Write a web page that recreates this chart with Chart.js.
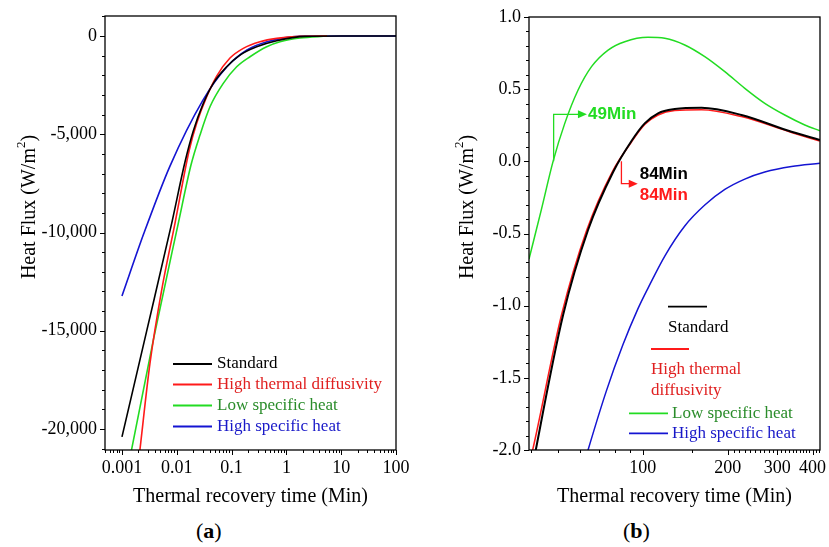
<!DOCTYPE html>
<html>
<head>
<meta charset="utf-8">
<script src="https://cdn.jsdelivr.net/npm/chart.js@4.4.1/dist/chart.umd.min.js"></script>
<style>
  body { margin: 0; background: #fff; width: 829px; height: 547px; position: relative; overflow: hidden; font-family: "Liberation Serif", serif; }
  #panelA { position: absolute; left: 0; top: 0; }
  #panelB { position: absolute; left: 420px; top: 0; }
  .tag { position: absolute; top: 518px; font-size: 22px; line-height: 26px; color: #000; }
</style>
</head>
<body>
<canvas id="panelA" width="415" height="510"></canvas>
<canvas id="panelB" width="409" height="510"></canvas>
<div class="tag" style="left:196px">(<b>a</b>)</div>
<div class="tag" style="left:623px">(<b>b</b>)</div>
<script>
// series names and colours (same order in both panels)
const seriesNames = ['Standard', 'High thermal diffusivity', 'Low specific heat', 'High specific heat'];
const lineColors = ['#000000', '#ff1a1a', '#22dc22', '#1414d2'];
const textColors = ['#000000', '#e02020', '#2a8c2a', '#1818c8'];

// panel (a): heat flux vs thermal recovery time, 0.001 - 100 min
const aStdX = [0.001, 0.00282, 0.00807, 0.01411, 0.02, 0.03047, 0.04636, 0.0814, 0.1423, 0.287, 0.665, 2.18, 10, 100];
const aStdY = [-20400, -15020, -9534, -6413, -4835, -3430, -2408, -1563, -967, -545, -239, -15, 0, 0];
const aRedX = [0.00188, 0.00213, 0.00324, 0.0053, 0.00927, 0.0169, 0.02307, 0.03512, 0.05346, 0.0935, 0.1635, 0.3298, 0.6653, 1.77, 5.5];
const aRedY = [-22350, -21038, -16660, -12931, -9534, -5803, -4444, -3090, -2036, -1120, -627, -290, -117, -15, 0];
const aGrnX = [0.00129, 0.0015, 0.00373, 0.01065, 0.01816, 0.02651, 0.04035, 0.07056, 0.1239, 0.2168, 0.437, 0.7643, 1.77, 5.51];
const aGrnY = [-21990, -21040, -15473, -9534, -6565, -5039, -3600, -2408, -1563, -1054, -545, -290, -102, 0];
const aBluX = [0.001, 0.00252, 0.00751, 0.03007, 0.0824, 0.191, 0.443, 1.77, 10, 100];
const aBluY = [-13230, -10030, -6618, -3258, -1563, -713, -290, -15, 0, 0];

// panel (b): zoom on the late recovery, 40 - 420 min
const bStdX = [40, 41.75, 52.18, 63.97, 78.5, 91.2, 101.6, 113.3, 129.8, 161.5, 223.9, 336.8, 424.4];
const bStdY = [-2.2, -2.0, -1.065, -0.476, -0.074, 0.141, 0.263, 0.333, 0.362, 0.371, 0.321, 0.205, 0.148];
const bRedX = [40, 40.7, 51.5, 63.3, 77.9, 91.2, 101.6, 113.3, 129.8, 161.5, 223.9, 336.8, 424.4];
const bRedY = [-2.06, -2.0, -1.065, -0.476, -0.074, 0.134, 0.255, 0.321, 0.352, 0.358, 0.31, 0.2, 0.141];
const bGrnX = [39.5, 43.74, 48.08, 52.9, 58.97, 65.8, 75.34, 86.3, 104.4, 119.7, 140.9, 165.9, 195.4, 230, 270.8, 318.8, 375.4, 424.4];
const bGrnY = [-0.677, -0.331, 0.0, 0.263, 0.494, 0.656, 0.771, 0.829, 0.859, 0.852, 0.806, 0.725, 0.621, 0.506, 0.402, 0.321, 0.252, 0.212];
const bBluX = [60, 63.97, 74.25, 84.95, 96.0, 104.4, 119.7, 140.9, 165.9, 195.4, 230, 270.8, 336.8, 424.4];
const bBluY = [-2.19, -2.0, -1.592, -1.273, -1.024, -0.878, -0.656, -0.448, -0.303, -0.195, -0.123, -0.074, -0.036, -0.014];

// tick labels
const aXTicks = [0.001, 0.01, 0.1, 1, 10, 100];
const aYTicks = [0, -5000, -10000, -15000, -20000];
const bXTicks = [100, 200, 300, 400];
const bYTicks = [1, 0.5, 0, -0.5, -1, -1.5, -2];

const TICK_FONT = { family: 'Liberation Serif', size: 18 };
const TITLE_FONT = '20px "Liberation Serif"';

function pts(xs, ys) {
  return xs.map((x, i) => ({ x, y: ys[i] }));
}

function logMinors(min, max) {
  const out = [];
  for (let d = -5; d <= 3; d++) {
    for (let k = 2; k <= 9; k++) {
      const v = k * Math.pow(10, d);
      if (v >= min && v <= max) out.push(v);
    }
  }
  return out;
}

function stepMinors(min, max, step, majors) {
  const out = [];
  for (let v = Math.ceil(min / step) * step; v <= max + 1e-9; v += step) {
    const r = Math.round(v / step) * step;
    if (!majors.some((m) => Math.abs(m - r) < step / 10)) out.push(r);
  }
  return out;
}

function drawArrowHead(ctx, x, y) {
  ctx.beginPath();
  ctx.moveTo(x, y);
  ctx.lineTo(x - 9, y - 4);
  ctx.lineTo(x - 9, y + 4);
  ctx.closePath();
  ctx.fill();
}

const framePlugin = {
  id: 'frame',
  afterDraw(chart, args, o) {
    const { ctx, chartArea: a } = chart;
    const sx = chart.scales.x;
    const sy = chart.scales.y;
    ctx.save();

    // box
    ctx.strokeStyle = '#000';
    ctx.lineWidth = 1.3;
    ctx.strokeRect(a.left, a.top, a.right - a.left, a.bottom - a.top);

    // outward ticks
    ctx.lineWidth = 1;
    ctx.beginPath();
    const xt = (v, len) => { const p = Math.round(sx.getPixelForValue(v)) + 0.5; ctx.moveTo(p, a.bottom); ctx.lineTo(p, a.bottom + len); };
    const yt = (v, len) => { const p = Math.round(sy.getPixelForValue(v)) + 0.5; ctx.moveTo(a.left, p); ctx.lineTo(a.left - len, p); };
    o.xMajor.forEach((v) => xt(v, 5));
    o.xMinor.forEach((v) => xt(v, 3));
    o.yMajor.forEach((v) => yt(v, 5));
    o.yMinor.forEach((v) => yt(v, 3));
    ctx.stroke();

    // axis titles
    ctx.fillStyle = '#000';
    ctx.font = TITLE_FONT;
    ctx.textAlign = 'center';
    ctx.textBaseline = 'middle';
    ctx.fillText('Thermal recovery time (Min)', (a.left + a.right) / 2, o.xTitleY);

    ctx.translate(o.yTitleX, o.yTitleY);
    ctx.rotate(-Math.PI / 2);
    const main = 'Heat Flux (W/m';
    ctx.font = TITLE_FONT;
    const w1 = ctx.measureText(main).width;
    ctx.font = '13px "Liberation Serif"';
    const w2 = ctx.measureText('2').width;
    ctx.font = TITLE_FONT;
    const w3 = ctx.measureText(')').width;
    let cx = -(w1 + w2 + w3) / 2;
    ctx.textAlign = 'left';
    ctx.fillText(main, cx, 0);
    cx += w1;
    ctx.font = '13px "Liberation Serif"';
    ctx.fillText('2', cx, -8);
    cx += w2;
    ctx.font = TITLE_FONT;
    ctx.fillText(')', cx, 0);
    ctx.setTransform(1, 0, 0, 1, 0, 0);

    // legend
    ctx.font = '17px "Liberation Serif"';
    ctx.textAlign = 'left';
    ctx.textBaseline = 'middle';
    o.legend.forEach((item) => {
      const ds = chart.data.datasets[item.index];
      ctx.strokeStyle = ds.borderColor;
      ctx.lineWidth = 1.8;
      ctx.beginPath();
      ctx.moveTo(item.line[0], item.line[2]);
      ctx.lineTo(item.line[1], item.line[2]);
      ctx.stroke();
      ctx.fillStyle = textColors[item.index];
      const lines = item.text || [ds.label];
      lines.forEach((t, k) => ctx.fillText(t, item.tx, item.ty + k * 21));
    });

    // zero-crossing markers
    (o.marks || []).forEach((m) => {
      const x0 = sx.getPixelForValue(m.x);
      const y0 = sy.getPixelForValue(m.y0);
      const y1 = sy.getPixelForValue(m.y1);
      const x1 = sx.getPixelForValue(m.x1);
      ctx.strokeStyle = m.color;
      ctx.fillStyle = m.color;
      ctx.lineWidth = 1.3;
      ctx.beginPath();
      ctx.moveTo(x0, y0);
      ctx.lineTo(x0, y1);
      ctx.lineTo(x1 - 8, y1);
      ctx.stroke();
      drawArrowHead(ctx, x1, y1);
      ctx.font = 'bold 17px "Liberation Sans"';
      m.labels.forEach((l) => {
        ctx.fillStyle = l.color;
        ctx.fillText(l.text, sx.getPixelForValue(l.x), sy.getPixelForValue(l.y));
      });
    });

    ctx.restore();
  },
};

function makeDatasets(sets, width) {
  return sets.map(([xs, ys], i) => ({
    label: seriesNames[i],
    data: pts(xs, ys),
    borderColor: lineColors[i],
    borderWidth: width[i],
    pointRadius: 0,
    fill: false,
    cubicInterpolationMode: 'monotone',
  }));
}

function makeChart(canvas, c) {
  return new Chart(canvas, {
    type: 'line',
    data: { datasets: makeDatasets(c.sets, c.widths) },
    options: {
      responsive: false,
      animation: false,
      layout: { padding: c.padding },
      scales: {
        x: {
          type: 'logarithmic',
          min: c.xMin,
          max: c.xMax,
          afterBuildTicks: (s) => { s.ticks = c.xTicks.map((v) => ({ value: v })); },
          afterFit: (s) => { s.height = 60; s.paddingLeft = 0; s.paddingRight = 0; },
          grid: { display: false, drawTicks: false },
          border: { display: false },
          ticks: { font: TICK_FONT, color: '#000', padding: 7, maxRotation: 0, autoSkip: false, callback: (v) => String(v) },
        },
        y: {
          type: 'linear',
          min: c.yMin,
          max: c.yMax,
          afterBuildTicks: (s) => { s.ticks = c.yTicks.map((v) => ({ value: v })); },
          afterFit: (s) => { s.width = c.yWidth; s.paddingTop = 0; s.paddingBottom = 0; },
          grid: { display: false, drawTicks: false },
          border: { display: false },
          ticks: { font: TICK_FONT, color: '#000', padding: 8, autoSkip: false, callback: c.yLabel },
        },
      },
      plugins: {
        legend: { display: false },
        tooltip: { enabled: false },
        frame: c.frame,
      },
    },
    plugins: [framePlugin],
  });
}

makeChart(document.getElementById('panelA'), {
  sets: [[aStdX, aStdY], [aRedX, aRedY], [aGrnX, aGrnY], [aBluX, aBluY]],
  widths: [1.6, 1.6, 1.6, 1.6],
  padding: { top: 16, right: 19, left: 0, bottom: 0 },
  xMin: 0.00049, xMax: 100, xTicks: aXTicks,
  yMin: -21070, yMax: 1020, yTicks: aYTicks, yWidth: 105,
  yLabel: (v) => Number(v).toLocaleString('en-US'),
  frame: {
    xMajor: aXTicks,
    xMinor: logMinors(0.00049, 100),
    yMajor: aYTicks,
    yMinor: stepMinors(-21070, 1020, 1000, aYTicks),
    xTitleY: 497,
    yTitleX: 30,
    yTitleY: 207,
    legend: [
      { index: 0, line: [173, 212, 364], tx: 217, ty: 364 },
      { index: 1, line: [173, 212, 384.5], tx: 217, ty: 384.5 },
      { index: 2, line: [173, 212, 405.5], tx: 217, ty: 405.5 },
      { index: 3, line: [173, 212, 426.5], tx: 217, ty: 426.5 },
    ],
  },
});

makeChart(document.getElementById('panelB'), {
  sets: [[bStdX, bStdY], [bRedX, bRedY], [bGrnX, bGrnY], [bBluX, bBluY]],
  widths: [2, 1.5, 1.5, 1.5],
  padding: { top: 17, right: 9, left: 0, bottom: 0 },
  xMin: 39.5, xMax: 425, xTicks: bXTicks,
  yMin: -2, yMax: 1, yTicks: bYTicks, yWidth: 109,
  yLabel: (v) => Number(v).toFixed(1),
  frame: {
    xMajor: bXTicks,
    xMinor: [40, 50, 60, 70, 80, 90, 150].concat(stepMinors(210, 420, 10, bXTicks)),
    yMajor: bYTicks,
    yMinor: stepMinors(-2, 1, 0.1, bYTicks),
    xTitleY: 497,
    yTitleX: 48,
    yTitleY: 207,
    legend: [
      { index: 0, line: [248, 287, 306.7], tx: 248, ty: 328 },
      { index: 1, line: [231, 269, 349], tx: 231, ty: 370, text: ['High thermal', 'diffusivity'] },
      { index: 2, line: [209, 248, 413.3], tx: 252, ty: 413.3 },
      { index: 3, line: [209, 248, 433.3], tx: 252, ty: 433.3 },
    ],
    marks: [
      { x: 48.3, y0: 0, y1: 0.326, x1: 63.4, color: '#22dc22',
        labels: [{ text: '49Min', x: 64, y: 0.326, color: '#22dc22' }] },
      { x: 84, y0: 0, y1: -0.155, x1: 96, color: '#ff1a1a',
        labels: [{ text: '84Min', x: 97.5, y: -0.088, color: '#000000' }, { text: '84Min', x: 97.5, y: -0.235, color: '#ff1a1a' }] },
    ],
  },
});
</script>
</body>
</html>
